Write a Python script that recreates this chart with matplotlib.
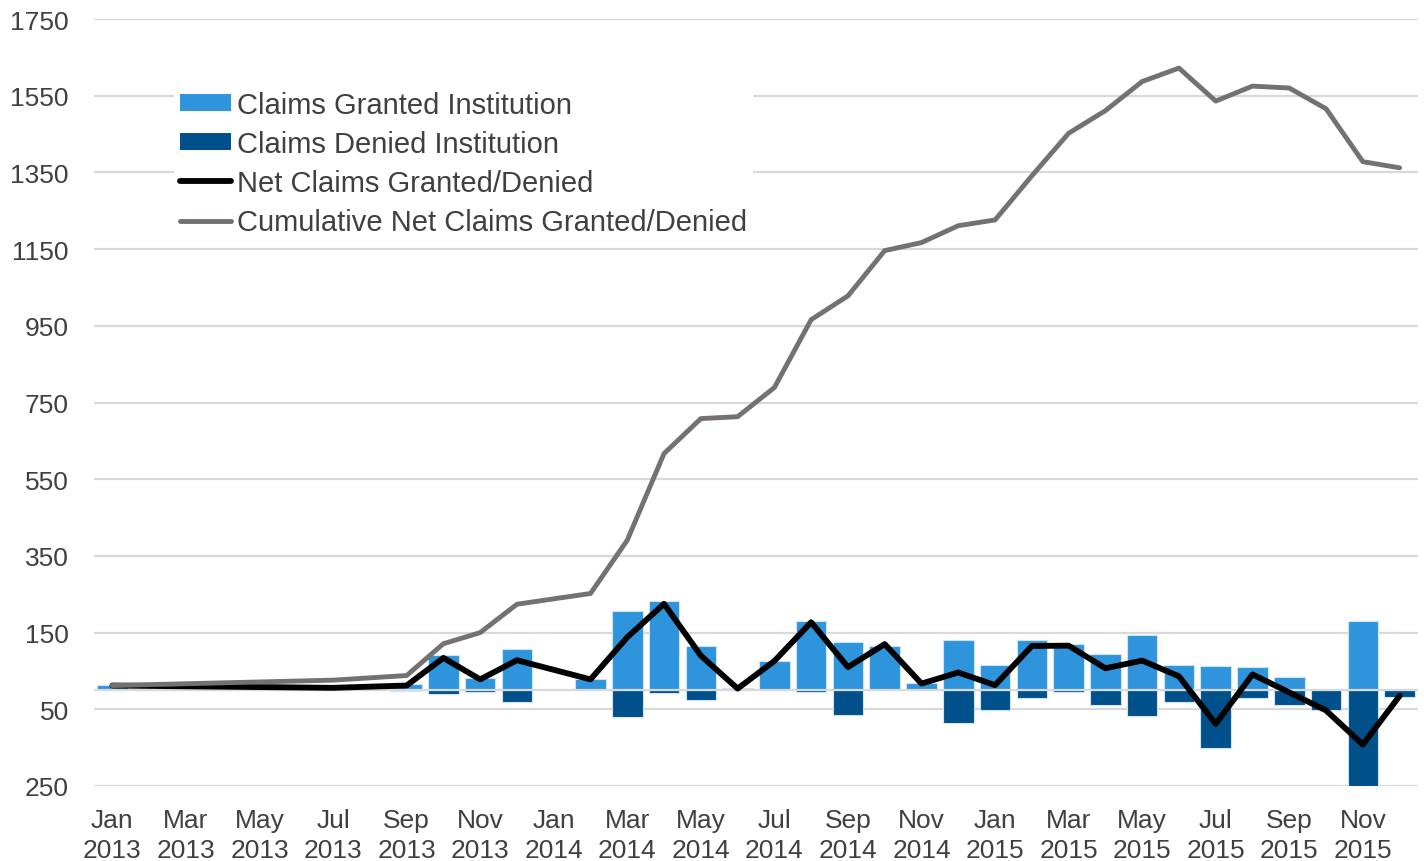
import numpy as np
import pandas as pd
import matplotlib.pyplot as plt
from matplotlib.patches import Patch
from matplotlib.lines import Line2D
from matplotlib.ticker import FuncFormatter

nan = np.nan

# Monthly figures, Jan 2013 - Dec 2015 (blank months are missing data)
months = pd.date_range('2013-01-01', '2015-12-01', freq='MS')
month_labels = [d.strftime('%b\n%Y') for d in months]

granted = [13, nan, nan, nan, nan, nan, nan, nan, 16, 92, 32, 108,
           nan, 29, 206, 232, 116, 6, 76, 181, 125, 116, 19, 130,
           66, 132, 121, 95, 144, 66, 63, 60, 35, 0, 181, 2]

denied = [0, nan, nan, nan, nan, nan, nan, nan, -2, -11, -6, -32,
          nan, 0, -69, -8, -25, 0, 0, -6, -64, 0, 0, -86,
          -52, -21, -5, -38, -68, -31, -150, -20, -40, -53, -322, -17]

net = [12, nan, nan, nan, nan, nan, 6, nan, 12, 84, 28, 78,
       nan, 28, 138, 225, 90, 4, 76, 177, 60, 120, 17, 46,
       13, 115, 116, 57, 77, 36, -88, 41, -6, -53, -142, -15]

cumulative = [12, nan, nan, nan, nan, nan, 26, nan, 38, 121, 150, 224,
              nan, 252, 391, 617, 708, 713, 789, 966, 1028, 1146, 1167, 1211,
              1226, 1341, 1452, 1511, 1587, 1622, 1536, 1575, 1570, 1516, 1378, 1362]

df = pd.DataFrame({'granted': granted, 'denied': denied,
                   'net': net, 'cumulative': cumulative}, index=months)
x = np.arange(len(df))

c_granted = '#2e94dc'
c_denied = '#00508c'
c_net = '#000000'
c_cum = '#767171'
c_grid = '#d9d9d9'
c_text = '#404040'

plt.rcParams['font.family'] = ['Liberation Sans', 'DejaVu Sans']

fig = plt.figure(figsize=(14.24, 8.62), dpi=100)
ax = fig.add_axes([94 / 1424, 1 - 787 / 862, (1418 - 94) / 1424, (787 - 20) / 862])

# bars
ax.bar(x, df['granted'].fillna(0), width=0.83, color=c_granted,
       edgecolor='#cfe3f5', linewidth=0.8, zorder=2)
ax.bar(x, df['denied'].fillna(0), width=0.83, color=c_denied,
       edgecolor='#cfe3f5', linewidth=0.8, zorder=2)

# horizontal axis line at zero
ax.axhline(0, color=c_grid, linewidth=1.6, zorder=3)

# lines connect across missing months
m = df['net'].notna()
ax.plot(x[m], df['net'][m], color=c_net, linewidth=4.2,
        solid_joinstyle='round', solid_capstyle='round', zorder=4)
m = df['cumulative'].notna()
ax.plot(x[m], df['cumulative'][m], color=c_cum, linewidth=3.5,
        solid_joinstyle='round', solid_capstyle='round', zorder=5)

ax.set_xlim(-0.5, len(df) - 0.5)
ax.set_ylim(-250, 1750)
ax.set_yticks(np.arange(-250, 1751, 200))
ax.yaxis.set_major_formatter(FuncFormatter(lambda v, p: f'{abs(int(v))}'))
ax.set_xticks(x[::2])
ax.set_xticklabels(month_labels[::2], linespacing=1.3)

ax.grid(axis='y', color=c_grid, linewidth=1.6, zorder=0)
ax.set_axisbelow(True)
for s in ax.spines.values():
    s.set_visible(False)
ax.tick_params(axis='both', length=0, labelsize=19, labelcolor=c_text)
ax.tick_params(axis='y', pad=18)
ax.tick_params(axis='x', pad=16)

handles = [
    Patch(facecolor=c_granted, edgecolor='none'),
    Patch(facecolor=c_denied, edgecolor='none'),
    Line2D([], [], color=c_net, linewidth=4.2, solid_capstyle='round'),
    Line2D([], [], color=c_cum, linewidth=3.5, solid_capstyle='round'),
]
labels = ['Claims Granted Institution', 'Claims Denied Institution',
          'Net Claims Granted/Denied', 'Cumulative Net Claims Granted/Denied']
leg = ax.legend(handles, labels, loc='upper left',
                bbox_to_anchor=(174 / 1424, 1 - 86 / 862), bbox_transform=fig.transFigure,
                fontsize=21, frameon=True, facecolor='white', edgecolor='none',
                framealpha=1, fancybox=False, handlelength=1.75, handleheight=0.55,
                handletextpad=0.2, labelspacing=0.38, borderpad=0.2, borderaxespad=0)
for t in leg.get_texts():
    t.set_color(c_text)
leg.set_zorder(6)

plt.savefig('out.png', dpi=100)
